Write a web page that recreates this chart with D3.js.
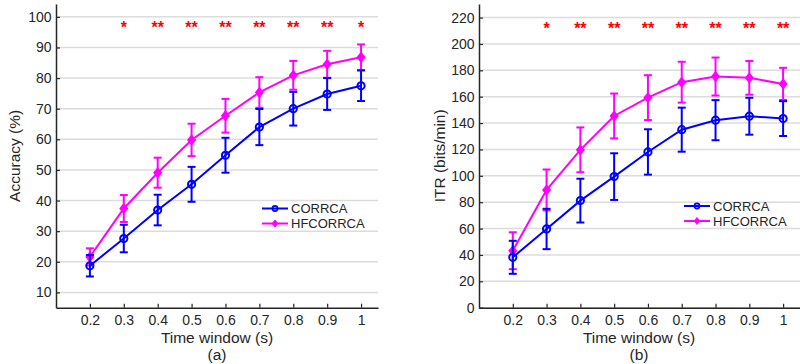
<!DOCTYPE html>
<html>
<head>
<meta charset="utf-8">
<script src="https://cdn.jsdelivr.net/npm/d3@7"></script>
<style>
  html, body { margin: 0; padding: 0; background: #fff; }
  svg { display: block; font-family: "Liberation Sans", Arial, Helvetica, sans-serif; }
</style>
</head>
<body>
<svg id="chart" width="800" height="364"></svg>
<script>
// ---- Data ----
const timeWindows = [0.2, 0.3, 0.4, 0.5, 0.6, 0.7, 0.8, 0.9, 1];
const xTickLabels = ["0.2", "0.3", "0.4", "0.5", "0.6", "0.7", "0.8", "0.9", "1"];
const seriesNames = ["CORRCA", "HFCORRCA"];

const accCorrca    = [18.7, 27.6, 36.9, 45.3, 54.8, 64.0, 70.0, 74.8, 77.5];
const accCorrcaErr = [3.5, 4.5, 5.0, 5.7, 5.7, 5.9, 5.5, 5.2, 5.0];
const accHf        = [21.6, 37.4, 49.1, 59.8, 67.7, 75.3, 80.9, 84.5, 86.8];
const accHfErr     = [2.8, 4.4, 4.9, 5.3, 5.5, 5.0, 4.7, 4.4, 4.2];
const accTicks     = [10, 20, 30, 40, 50, 60, 70, 80, 90, 100];
const accStars     = ["", "*", "**", "**", "**", "**", "**", "**", "*"];

const itrCorrca    = [38.2, 59.7, 81.2, 99.4, 118.1, 135.0, 142.2, 145.2, 143.4];
const itrCorrcaErr = [12.5, 15.3, 16.6, 17.7, 17.2, 16.7, 15.2, 14.0, 13.2];
const itrHf        = [43.2, 89.3, 119.7, 145.4, 159.3, 171.0, 175.3, 174.3, 169.7];
const itrHfErr     = [14.0, 15.5, 17.0, 17.0, 17.0, 15.5, 14.4, 12.8, 12.2];
const itrTicks     = [0, 20, 40, 60, 80, 100, 120, 140, 160, 180, 200, 220];
const itrStars     = ["", "*", "**", "**", "**", "**", "**", "**", "**"];

// ---- Drawing ----
const svg = d3.select("#chart");
const AX = "#262626";
const GRID = "#dcdcdc";
const BLUE = "#0000ff";
const MAG = "#ff00ff";

function panel(cfg) {
  const g = svg.append("g");
  const x = d3.scaleLinear().domain([0.1, 1.05]).range([cfg.left, cfg.right]);
  const y = d3.scaleLinear().domain(cfg.yDomain).range([cfg.bottom, cfg.top]);

  // gridlines
  g.append("g").selectAll("line").data(cfg.yTicks).join("line")
    .attr("x1", cfg.left).attr("x2", cfg.right)
    .attr("y1", d => y(d)).attr("y2", d => y(d))
    .attr("stroke", GRID).attr("stroke-width", 1.5);

  // axes
  const xAxis = d3.axisBottom(x).tickValues(timeWindows)
    .tickFormat((d, i) => xTickLabels[i]).tickSizeInner(-4).tickSizeOuter(0).tickPadding(7);
  const gx = g.append("g").attr("transform", `translate(0,${cfg.bottom})`).call(xAxis);
  const yAxis = d3.axisLeft(y).tickValues(cfg.yTicks).tickSizeInner(-4).tickSizeOuter(0).tickPadding(4.5);
  const gy = g.append("g").attr("transform", `translate(${cfg.left},0)`).call(yAxis);
  [gx, gy].forEach(a => {
    a.select(".domain").attr("stroke", AX).attr("stroke-width", 1.5);
    a.selectAll(".tick line").attr("stroke", AX).attr("stroke-width", 1.2);
    a.selectAll(".tick text").attr("fill", AX).style("font-size", "14px")
      .style("font-family", "'Liberation Sans', Arial, sans-serif");
  });

  // series
  const series = [
    { vals: cfg.hf, err: cfg.hfErr, color: MAG, marker: "diamond" },
    { vals: cfg.cor, err: cfg.corErr, color: BLUE, marker: "circle" }
  ];
  const line = d3.line().x((d, i) => x(timeWindows[i])).y(d => y(d));
  series.forEach(s => {
    const sg = g.append("g");
    sg.append("path").datum(s.vals).attr("d", line)
      .attr("fill", "none").attr("stroke", s.color).attr("stroke-width", 2);
    const eb = sg.append("g").selectAll("g").data(s.vals).join("g");
    eb.append("line")
      .attr("x1", (d, i) => x(timeWindows[i])).attr("x2", (d, i) => x(timeWindows[i]))
      .attr("y1", (d, i) => y(d - s.err[i])).attr("y2", (d, i) => y(d + s.err[i]))
      .attr("stroke", s.color).attr("stroke-width", 2);
    [-1, 1].forEach(sgn => {
      eb.append("line")
        .attr("x1", (d, i) => x(timeWindows[i]) - 4).attr("x2", (d, i) => x(timeWindows[i]) + 4)
        .attr("y1", (d, i) => y(d + sgn * s.err[i])).attr("y2", (d, i) => y(d + sgn * s.err[i]))
        .attr("stroke", s.color).attr("stroke-width", 2);
    });
    if (s.marker === "circle") {
      sg.append("g").selectAll("circle").data(s.vals).join("circle")
        .attr("cx", (d, i) => x(timeWindows[i])).attr("cy", d => y(d)).attr("r", 3.6)
        .attr("fill", "none").attr("stroke", s.color).attr("stroke-width", 2);
    } else {
      sg.append("g").selectAll("path").data(s.vals).join("path")
        .attr("d", (d, i) => {
          const cx = x(timeWindows[i]), cy = y(d), r = 4.5;
          return `M${cx},${cy - r}L${cx + r * 0.8},${cy}L${cx},${cy + r}L${cx - r * 0.8},${cy}Z`;
        })
        .attr("fill", s.color).attr("stroke", s.color).attr("stroke-width", 1.5);
    }
  });

  // significance stars
  g.append("g").selectAll("text").data(cfg.stars).join("text")
    .attr("x", (d, i) => x(timeWindows[i])).attr("y", cfg.starY)
    .attr("text-anchor", "middle").attr("fill", "#ff0000")
    .style("font-size", "16px").style("font-weight", "bold").text(d => d);

  // axis titles
  g.append("text").attr("x", cfg.xTitleX).attr("y", 343).attr("text-anchor", "middle")
    .attr("fill", AX).style("font-size", "15.5px").text("Time window (s)");
  g.append("text").attr("x", cfg.xTitleX).attr("y", 360).attr("text-anchor", "middle")
    .attr("fill", AX).style("font-size", "15.5px").text(cfg.sub);
  g.append("text")
    .attr("transform", `translate(${cfg.yTitleX},${(cfg.top + cfg.bottom) / 2}) rotate(-90)`)
    .attr("text-anchor", "middle").attr("fill", AX).style("font-size", "15.5px").text(cfg.yTitle);

  // legend
  const lg = g.append("g");
  const entries = [
    { name: seriesNames[0], color: BLUE, marker: "circle" },
    { name: seriesNames[1], color: MAG, marker: "diamond" }
  ];
  entries.forEach((e, k) => {
    const ly = cfg.legY + k * 15;
    lg.append("line").attr("x1", cfg.legX).attr("x2", cfg.legX + 26)
      .attr("y1", ly).attr("y2", ly).attr("stroke", e.color).attr("stroke-width", 2);
    const cx = cfg.legX + 13;
    if (e.marker === "circle") {
      lg.append("circle").attr("cx", cx).attr("cy", ly).attr("r", 2.6)
        .attr("fill", "none").attr("stroke", e.color).attr("stroke-width", 1.6);
    } else {
      const r = 3.5;
      lg.append("path").attr("d", `M${cx},${ly - r}L${cx + r * 0.8},${ly}L${cx},${ly + r}L${cx - r * 0.8},${ly}Z`)
        .attr("fill", e.color).attr("stroke", e.color).attr("stroke-width", 1);
    }
    lg.append("text").attr("x", cfg.legX + 29).attr("y", ly + 4.6)
      .attr("fill", AX).style("font-size", "13px").text(e.name);
  });
}

panel({
  left: 56, right: 378, top: 4, bottom: 307.7,
  yDomain: [5, 104.2], yTicks: accTicks,
  cor: accCorrca, corErr: accCorrcaErr, hf: accHf, hfErr: accHfErr,
  stars: accStars, starY: 33,
  xTitleX: 217, sub: "(a)", yTitle: "Accuracy (%)", yTitleX: 20,
  legX: 262, legY: 208.5
});

panel({
  left: 479, right: 800, top: 4, bottom: 307.7,
  yDomain: [0, 230.3], yTicks: itrTicks,
  cor: itrCorrca, corErr: itrCorrcaErr, hf: itrHf, hfErr: itrHfErr,
  stars: itrStars, starY: 33.5,
  xTitleX: 639, sub: "(b)", yTitle: "ITR (bits/min)", yTitleX: 445,
  legX: 684, legY: 206
});
</script>
</body>
</html>
